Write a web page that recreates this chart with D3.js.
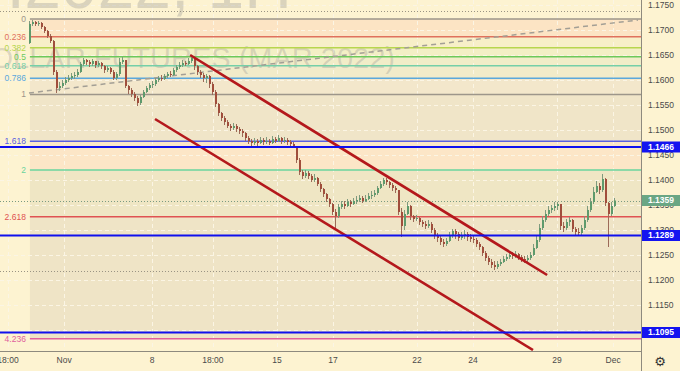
<!DOCTYPE html>
<html>
<head>
<meta charset="utf-8">
<script src="https://cdnjs.cloudflare.com/ajax/libs/d3/7.8.5/d3.min.js"></script>
<title>EUR futures 1H</title>
<style>
  body { margin: 0; background: #fdf3d1; }
  svg { display: block; font-family: "Liberation Sans", Arial, sans-serif; }
</style>
</head>
<body>
<svg width="680" height="371"></svg>
<script>
// hourly candles, open = previous close
const firstOpen = 1.1674;
const closes = [1.1712,1.1716,1.1712,1.1714,1.1706,1.1698,1.1688,1.1678,1.1616,1.1584,
  1.1588,1.1594,1.1600,1.1604,1.1608,1.1610,1.1616,1.1632,1.1640,1.1636,
  1.1632,1.1638,1.1630,1.1634,1.1628,1.1620,1.1624,1.1616,1.1604,1.1612,
  1.1636,1.1640,1.1588,1.1580,1.1572,1.1564,1.1554,1.1566,1.1576,1.1584,
  1.1590,1.1592,1.1600,1.1604,1.1602,1.1608,1.1612,1.1610,1.1620,1.1626,
  1.1630,1.1634,1.1632,1.1638,1.1644,1.1628,1.1616,1.1610,1.1604,1.1608,
  1.1592,1.1576,1.1552,1.1534,1.1524,1.1516,1.1508,1.1504,1.1508,1.1502,
  1.1498,1.1494,1.1484,1.1478,1.1474,1.1478,1.1474,1.1480,1.1476,1.1478,
  1.1474,1.1482,1.1478,1.1484,1.1478,1.1480,1.1476,1.1472,1.1468,1.1440,
  1.1416,1.1408,1.1414,1.1408,1.1400,1.1404,1.1392,1.1382,1.1372,1.1362,
  1.1352,1.1336,1.1328,1.1346,1.1352,1.1348,1.1356,1.1352,1.1358,1.1360,
  1.1364,1.1358,1.1362,1.1368,1.1370,1.1374,1.1384,1.1392,1.1400,1.1396,
  1.1390,1.1384,1.1380,1.1336,1.1308,1.1332,1.1348,1.1328,1.1322,1.1324,
  1.1316,1.1312,1.1308,1.1312,1.1300,1.1290,1.1284,1.1276,1.1272,1.1278,
  1.1288,1.1298,1.1292,1.1284,1.1288,1.1292,1.1286,1.1282,1.1280,1.1272,
  1.1266,1.1254,1.1244,1.1236,1.1230,1.1226,1.1232,1.1236,1.1242,1.1246,
  1.1250,1.1248,1.1252,1.1246,1.1242,1.1240,1.1244,1.1250,1.1264,1.1280,
  1.1304,1.1320,1.1332,1.1340,1.1344,1.1348,1.1352,1.1308,1.1304,1.1316,
  1.1320,1.1302,1.1296,1.1294,1.1304,1.1320,1.1340,1.1356,1.1376,1.1388,
  1.1380,1.1402,1.1354,1.1332,1.1348,1.1359];
const highs = [1.1718,1.1720,1.1718,1.1718,1.1716,1.1708,1.1700,1.1692,1.1680,1.1620,
  1.1596,1.1600,1.1606,1.1610,1.1614,1.1616,1.1622,1.1636,1.1644,1.1642,
  1.1640,1.1642,1.1638,1.1638,1.1636,1.1630,1.1628,1.1626,1.1620,1.1616,
  1.1644,1.1646,1.1640,1.1590,1.1584,1.1576,1.1568,1.1570,1.1580,1.1588,
  1.1594,1.1598,1.1604,1.1608,1.1610,1.1612,1.1616,1.1618,1.1624,1.1630,
  1.1636,1.1640,1.1638,1.1644,1.1648,1.1644,1.1630,1.1620,1.1614,1.1612,
  1.1610,1.1596,1.1580,1.1554,1.1536,1.1528,1.1520,1.1512,1.1514,1.1512,
  1.1506,1.1502,1.1496,1.1488,1.1482,1.1484,1.1482,1.1486,1.1484,1.1486,
  1.1482,1.1488,1.1486,1.1490,1.1486,1.1486,1.1484,1.1480,1.1476,1.1468,
  1.1444,1.1420,1.1420,1.1418,1.1412,1.1412,1.1406,1.1396,1.1384,1.1374,
  1.1364,1.1354,1.1342,1.1352,1.1358,1.1358,1.1362,1.1360,1.1364,1.1368,
  1.1370,1.1368,1.1370,1.1374,1.1378,1.1380,1.1388,1.1398,1.1404,1.1404,
  1.1398,1.1394,1.1388,1.1380,1.1344,1.1340,1.1356,1.1350,1.1330,1.1330,
  1.1326,1.1320,1.1318,1.1320,1.1316,1.1304,1.1294,1.1288,1.1282,1.1284,
  1.1296,1.1302,1.1302,1.1296,1.1296,1.1300,1.1296,1.1292,1.1288,1.1284,
  1.1276,1.1268,1.1258,1.1248,1.1242,1.1238,1.1238,1.1242,1.1248,1.1252,
  1.1256,1.1256,1.1258,1.1254,1.1250,1.1248,1.1250,1.1256,1.1272,1.1288,
  1.1312,1.1328,1.1340,1.1348,1.1350,1.1356,1.1356,1.1352,1.1316,1.1322,
  1.1326,1.1322,1.1306,1.1304,1.1310,1.1328,1.1348,1.1364,1.1386,1.1398,
  1.1394,1.1412,1.1404,1.1356,1.1356,1.1364];
const lows = [1.1672,1.1708,1.1708,1.1708,1.1702,1.1694,1.1684,1.1674,1.1610,1.1574,
  1.1578,1.1584,1.1590,1.1596,1.1600,1.1602,1.1606,1.1614,1.1628,1.1630,
  1.1626,1.1628,1.1624,1.1626,1.1622,1.1614,1.1616,1.1612,1.1600,1.1600,
  1.1608,1.1632,1.1584,1.1572,1.1566,1.1558,1.1548,1.1550,1.1564,1.1574,
  1.1580,1.1584,1.1588,1.1596,1.1598,1.1600,1.1604,1.1606,1.1608,1.1616,
  1.1622,1.1626,1.1628,1.1630,1.1634,1.1620,1.1610,1.1604,1.1596,1.1594,
  1.1584,1.1570,1.1546,1.1528,1.1518,1.1510,1.1504,1.1498,1.1500,1.1496,
  1.1492,1.1486,1.1478,1.1472,1.1468,1.1470,1.1468,1.1472,1.1470,1.1472,
  1.1470,1.1472,1.1474,1.1476,1.1472,1.1474,1.1470,1.1468,1.1464,1.1434,
  1.1410,1.1402,1.1404,1.1402,1.1396,1.1396,1.1388,1.1376,1.1366,1.1356,
  1.1346,1.1330,1.1304,1.1324,1.1342,1.1342,1.1346,1.1346,1.1350,1.1352,
  1.1356,1.1354,1.1356,1.1360,1.1362,1.1366,1.1370,1.1382,1.1388,1.1390,
  1.1384,1.1378,1.1374,1.1330,1.1286,1.1300,1.1330,1.1320,1.1316,1.1318,
  1.1310,1.1306,1.1302,1.1304,1.1294,1.1282,1.1276,1.1270,1.1266,1.1268,
  1.1276,1.1284,1.1282,1.1278,1.1280,1.1282,1.1278,1.1276,1.1274,1.1266,
  1.1260,1.1248,1.1238,1.1230,1.1224,1.1220,1.1222,1.1228,1.1234,1.1238,
  1.1242,1.1242,1.1244,1.1240,1.1236,1.1234,1.1236,1.1240,1.1248,1.1262,
  1.1276,1.1300,1.1316,1.1328,1.1334,1.1338,1.1340,1.1300,1.1296,1.1300,
  1.1308,1.1296,1.1290,1.1288,1.1290,1.1300,1.1316,1.1336,1.1352,1.1374,
  1.1372,1.1376,1.1348,1.1266,1.1328,1.1346];

// fibonacci extension drawn from the 0 level (high) to the 1 level
const fibPrice0 = 1.1722;
const fibPrice1 = 1.1571;
const fibStartBar = 0.3;
const fibLevels = [0, 0.236, 0.382, 0.5, 0.618, 0.786, 1, 1.618, 2, 2.618, 4.236];
const fibLabels = ['0', '0.236', '0.382', '0.5', '0.618', '0.786', '1', '1.618', '2', '2.618', '4.236'];
const fibColors = ['#9d968a', '#e0715d', '#b7d64e', '#6dc95a', '#74cfa8', '#5aa8dc', '#9d968a', '#5a5ee0', '#6ad49e', '#e05252', '#e0609c'];
const fibFills = ['#fce4c4', '#f7efc8', '#f3efc5', '#f1edc8', '#f2ebc9', '#f3e7cb', '#f0e5c8', '#fce6c7', '#efe6c4', '#efe4c6'];

// horizontal support / resistance lines
const userLines = [1.1466, 1.1289, 1.1095];
const lastPrice = 1.1359;
const dottedLevels = [1.1739, 1.1218];

// trend line (dashed grey) and descending channel, [bar, price]
const trendLine = [[0, 1.1574], [203, 1.1720]];
const channelUpper = [[53.7, 1.1650], [172.7, 1.1210]];
const channelLower = [[42, 1.1522], [168, 1.1060]];

const priceTicks = [1.175, 1.170, 1.165, 1.160, 1.155, 1.150, 1.145, 1.140, 1.135, 1.130, 1.125, 1.120, 1.115, 1.110];
const timeTickBars = [-7, 11.7, 41, 61.3, 82.7, 101.3, 129.3, 148, 176, 194.7];
const timeTickLabels = ['18:00', 'Nov', '8', '18:00', '15', '17', '22', '24', '29', 'Dec'];

const svg = d3.select('svg');
const width = +svg.attr('width');
const height = +svg.attr('height');
const plotRight = 641;
const plotBottom = 351;

const x = d3.scaleLinear().domain([0, closes.length - 1]).range([29, 614]);
const y = d3.scaleLinear().domain([1.11, 1.175]).range([330, 5]);

const candles = closes.map((c, i) => {
  const o = i === 0 ? firstOpen : closes[i - 1];
  return { i, o, c, h: Math.max(highs[i], o, c), l: Math.min(lows[i], o, c) };
});

svg.append('rect').attr('width', width).attr('height', height).attr('fill', '#fdf3d1');

svg.append('defs').append('clipPath').attr('id', 'plot')
  .append('rect').attr('width', plotRight).attr('height', plotBottom);

const plot = svg.append('g').attr('clip-path', 'url(#plot)');

const fibY = l => y(fibPrice0 - l * (fibPrice0 - fibPrice1));
const fibX = x(fibStartBar);

// zone fills
plot.append('g').selectAll('rect').data(fibFills)
  .enter().append('rect')
    .attr('x', fibX)
    .attr('width', plotRight - fibX)
    .attr('y', (d, i) => fibY(fibLevels[i]))
    .attr('height', (d, i) => fibY(fibLevels[i + 1]) - fibY(fibLevels[i]))
    .attr('fill', d => d);

// grid
const grid = plot.append('g')
  .attr('stroke', '#fbf5e4').attr('stroke-width', 1).attr('stroke-dasharray', '4,3');
grid.selectAll('.v').data(timeTickBars).enter().append('line')
  .attr('x1', d => Math.round(x(d)) + 0.5).attr('x2', d => Math.round(x(d)) + 0.5)
  .attr('y1', 0).attr('y2', plotBottom);
grid.selectAll('.h').data(priceTicks).enter().append('line')
  .attr('x1', 0).attr('x2', plotRight)
  .attr('y1', d => Math.round(y(d)) + 0.5).attr('y2', d => Math.round(y(d)) + 0.5);

// watermark
plot.append('text')
  .attr('x', 292).attr('y', 8)
  .attr('text-anchor', 'end')
  .attr('font-size', 66)
  .attr('fill', '#8c8c8c').attr('fill-opacity', 0.3)
  .text('6EH2022, 1H');
plot.append('text')
  .attr('x', 395).attr('y', 68)
  .attr('text-anchor', 'end')
  .attr('font-size', 29)
  .attr('fill', '#8c8c8c').attr('fill-opacity', 0.28)
  .text('EURO/U.S. DOLLAR FUTURES (MAR 2022)');

// fib level lines and labels
plot.append('g').selectAll('line').data(fibLevels)
  .enter().append('line')
    .attr('x1', fibX).attr('x2', plotRight)
    .attr('y1', d => fibY(d)).attr('y2', d => fibY(d))
    .attr('stroke', (d, i) => fibColors[i])
    .attr('stroke-width', 1.5);
plot.append('g').selectAll('text').data(fibLevels)
  .enter().append('text')
    .attr('x', fibX - 4)
    .attr('y', d => fibY(d))
    .attr('dy', '0.35em')
    .attr('text-anchor', 'end')
    .attr('font-size', 8.5)
    .attr('fill', (d, i) => fibColors[i])
    .text((d, i) => fibLabels[i]);

// dotted levels
plot.append('g').selectAll('line').data(dottedLevels.concat([lastPrice]))
  .enter().append('line')
    .attr('x1', 0).attr('x2', plotRight)
    .attr('y1', d => Math.round(y(d)) + 0.5).attr('y2', d => Math.round(y(d)) + 0.5)
    .attr('stroke', (d, i) => i === 2 ? '#7a9a82' : '#9a9484')
    .attr('stroke-dasharray', '1,2');

// dashed trend line
const lineGen = d3.line().x(d => x(d[0])).y(d => y(d[1]));
plot.append('path')
  .attr('d', lineGen(trendLine))
  .attr('fill', 'none')
  .attr('stroke', '#a39f95')
  .attr('stroke-width', 1.5)
  .attr('stroke-dasharray', '5,4');

// candles
const candleG = plot.append('g');
candleG.selectAll('line').data(candles)
  .enter().append('line')
    .attr('x1', d => Math.round(x(d.i)) + 0.5).attr('x2', d => Math.round(x(d.i)) + 0.5)
    .attr('y1', d => y(d.h)).attr('y2', d => y(d.l))
    .attr('stroke', d => d.c >= d.o ? '#7f9a7e' : '#9c6a58')
    .attr('stroke-width', 1);
candleG.selectAll('rect').data(candles)
  .enter().append('rect')
    .attr('x', d => Math.round(x(d.i)))
    .attr('width', 2)
    .attr('y', d => y(Math.max(d.o, d.c)))
    .attr('height', d => Math.max(1, Math.abs(y(d.o) - y(d.c))))
    .attr('fill', d => d.c >= d.o ? '#5e9a6c' : '#a04e3c');

// descending channel
plot.append('g').selectAll('path').data([channelUpper, channelLower])
  .enter().append('path')
    .attr('d', lineGen)
    .attr('fill', 'none')
    .attr('stroke', '#b4181c')
    .attr('stroke-width', 2.6);

// horizontal user lines
plot.append('g').selectAll('line').data(userLines)
  .enter().append('line')
    .attr('x1', 0).attr('x2', plotRight)
    .attr('y1', d => y(d)).attr('y2', d => y(d))
    .attr('stroke', '#1010ee')
    .attr('stroke-width', 2);

// axes frame
svg.append('line').attr('x1', 0).attr('x2', plotRight)
  .attr('y1', plotBottom + 0.5).attr('y2', plotBottom + 0.5)
  .attr('stroke', '#8e8a7e');
svg.append('line').attr('x1', plotRight + 0.5).attr('x2', plotRight + 0.5)
  .attr('y1', 0).attr('y2', height)
  .attr('stroke', '#8e8a7e');

// price axis
svg.append('g').selectAll('text').data(priceTicks)
  .enter().append('text')
    .attr('x', 648)
    .attr('y', d => y(d))
    .attr('dy', '0.35em')
    .attr('font-size', 8.5)
    .attr('fill', '#4a4a4a')
    .text(d => d.toFixed(4));

// price labels for marked levels
const tags = userLines.map(p => ({ p, color: '#1414f0' }))
  .concat([{ p: lastPrice, color: '#6aa684' }]);
const tagG = svg.append('g').selectAll('g').data(tags)
  .enter().append('g')
    .attr('transform', d => `translate(${plotRight + 1},${y(d.p)})`);
tagG.append('rect')
  .attr('x', 0).attr('y', -5.5)
  .attr('width', width - plotRight).attr('height', 11)
  .attr('fill', d => d.color);
tagG.append('text')
  .attr('x', 6).attr('dy', '0.35em')
  .attr('font-size', 8.5)
  .attr('font-weight', 'bold')
  .attr('fill', '#fff')
  .text(d => d.p.toFixed(4));

// time axis
svg.append('g').selectAll('text').data(timeTickBars)
  .enter().append('text')
    .attr('x', d => x(d))
    .attr('y', 363)
    .attr('text-anchor', 'middle')
    .attr('font-size', 8.5)
    .attr('fill', '#4a4a4a')
    .text((d, i) => timeTickLabels[i]);

svg.append('text')
  .attr('x', 660).attr('y', 366)
  .attr('text-anchor', 'middle')
  .attr('font-family', 'DejaVu Sans')
  .attr('font-size', 13)
  .attr('fill', '#333')
  .text('\u2699');
</script>
</body>
</html>
